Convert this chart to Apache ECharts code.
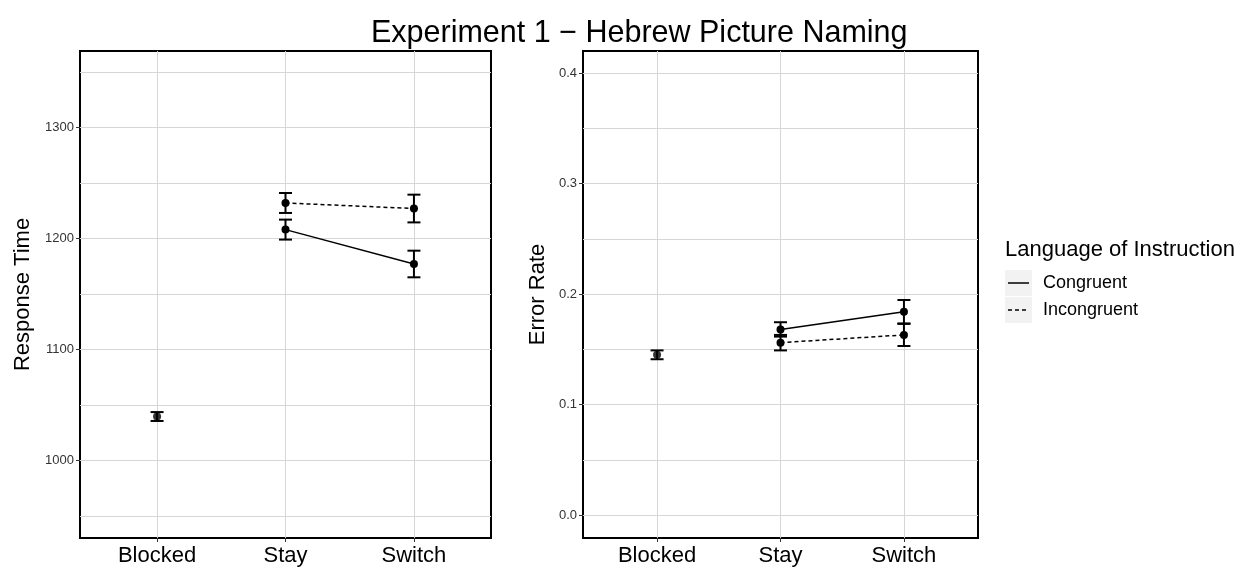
<!DOCTYPE html>
<html>
<head>
<meta charset="utf-8">
<script src="https://cdn.jsdelivr.net/npm/echarts@6/dist/echarts.min.js"></script>
<style>html,body{margin:0;padding:0;background:#fff}#c{width:1245px;height:567px}</style>
</head>
<body>
<div id="c"></div>
<script>
// ---- data ----
const categories = ['Blocked', 'Stay', 'Switch'];
const seriesNames = ['Congruent', 'Incongruent'];

// Response time (ms)
const rtBlocked = [1039.5, null, null];
const rtBlockedSE = [4, null, null];
const rtCongruent = [null, 1208, 1177];
const rtCongruentSE = [null, 9, 12];
const rtIncongruent = [null, 1232, 1227];
const rtIncongruentSE = [null, 9, 12.5];

// Error rate
const erBlocked = [0.145, null, null];
const erBlockedSE = [0.004, null, null];
const erCongruent = [null, 0.168, 0.184];
const erCongruentSE = [null, 0.0065, 0.0106];
const erIncongruent = [null, 0.156, 0.163];
const erIncongruentSE = [null, 0.0070, 0.0100];

// tick labels / gridlines
const rtTicks = [1000, 1100, 1200, 1300];
const rtGrid = [950, 1000, 1050, 1100, 1150, 1200, 1250, 1300, 1350];
const erTicks = [0.0, 0.1, 0.2, 0.3, 0.4];
const erGrid = [0.0, 0.05, 0.1, 0.15, 0.2, 0.25, 0.3, 0.35, 0.4];

// ---- helpers ----
const FONT = 'Liberation Sans, Arial, sans-serif';
const xPos = categories.map((c, i) => i + 1);
function pts(vals) {
  const out = [];
  vals.forEach((v, i) => { if (v != null) out.push([xPos[i], v]); });
  return out;
}
function bars(vals, se) {
  const out = [];
  vals.forEach((v, i) => { if (v != null) out.push([xPos[i], v - se[i], v + se[i]]); });
  return out;
}
function errRender(params, api) {
  const x = api.value(0), lo = api.value(1), hi = api.value(2);
  const a = api.coord([x, lo]), b = api.coord([x, hi]);
  const hw = 6.5;
  const st = { stroke: '#000', lineWidth: 2 };
  return { type: 'group', children: [
    { type: 'line', shape: { x1: a[0], y1: a[1], x2: b[0], y2: b[1] }, style: st },
    { type: 'line', shape: { x1: a[0] - hw, y1: a[1], x2: a[0] + hw, y2: a[1] }, style: st },
    { type: 'line', shape: { x1: b[0] - hw, y1: b[1], x2: b[0] + hw, y2: b[1] }, style: st }
  ]};
}
function xAxisFor(gi) {
  return {
    type: 'value', gridIndex: gi, min: 0.4, max: 3.6, position: 'bottom',
    axisLine: { show: false, onZero: false },
    axisTick: { show: true, customValues: xPos, length: 4, lineStyle: { color: '#333', width: 1 } },
    axisLabel: { show: true, customValues: xPos, formatter: v => categories[Math.round(v) - 1] || '',
      fontSize: 22, color: '#000', fontFamily: FONT, margin: 7 },
    splitLine: { show: true, lineStyle: { color: '#d6d6d6', width: 1 } }
  };
}
function yAxesFor(gi, min, max, ticks, grid, fmt, name, gap) {
  return [{
    type: 'value', gridIndex: gi, min: min, max: max, position: 'left',
    name: name, nameLocation: 'middle', nameGap: gap, nameRotate: 90,
    nameTextStyle: { fontSize: 22, color: '#000', fontFamily: FONT },
    axisLine: { show: false, onZero: false },
    axisTick: { show: true, customValues: ticks, length: 4, lineStyle: { color: '#333', width: 1 } },
    axisLabel: { show: true, customValues: ticks, formatter: fmt, fontSize: 13, color: '#333', fontFamily: FONT, margin: 6 },
    splitLine: { show: false }
  }, {
    type: 'value', gridIndex: gi, min: min, max: max, position: 'left',
    axisLine: { show: false, onZero: false },
    axisTick: { show: false, customValues: grid },
    axisLabel: { show: false },
    splitLine: { show: true, lineStyle: { color: '#d6d6d6', width: 1 } }
  }];
}
function panelSeries(xi, yi, blocked, blockedSE, cong, congSE, incong, incongSE) {
  const common = { xAxisIndex: xi, yAxisIndex: yi, animation: false, symbol: 'circle', symbolSize: 8,
    itemStyle: { color: '#000' }, z: 5 };
  return [
    { type: 'custom', xAxisIndex: xi, yAxisIndex: yi, renderItem: errRender, encode: { x: 0, y: [1, 2] },
      data: bars(blocked, blockedSE).concat(bars(cong, congSE), bars(incong, incongSE)), z: 3, animation: false, silent: true },
    Object.assign({ type: 'line', name: seriesNames[0], data: pts(cong), lineStyle: { color: '#000', width: 1.5, type: 'solid' } }, common),
    Object.assign({ type: 'line', name: seriesNames[1], data: pts(incong), lineStyle: { color: '#000', width: 1.5, type: [4, 3] } }, common),
    Object.assign({ type: 'scatter', name: 'Blocked', data: pts(blocked) }, common)
  ];
}

const chart = echarts.init(document.getElementById('c'), null, { renderer: 'canvas' });
const gridStyle = { show: true, borderColor: '#000', borderWidth: 2, backgroundColor: '#fff' };
chart.setOption({
  animation: false,
  textStyle: { fontFamily: FONT },
  title: { text: 'Experiment 1 − Hebrew Picture Naming', left: 366, top: 13,
    textStyle: { fontSize: 30.5, fontWeight: 'normal', color: '#000', fontFamily: FONT } },
  grid: [
    Object.assign({ left: 80, top: 51, width: 411, height: 488 }, gridStyle),
    Object.assign({ left: 583, top: 51, width: 395, height: 488 }, gridStyle)
  ],
  xAxis: [xAxisFor(0), xAxisFor(1)],
  yAxis: [].concat(
    yAxesFor(0, 930, 1369, rtTicks, rtGrid, v => String(v), 'Response Time', 46),
    yAxesFor(1, -0.0208, 0.42, erTicks, erGrid, v => Number(v).toFixed(1), 'Error Rate', 34)
  ),
  series: [].concat(
    panelSeries(0, 0, rtBlocked, rtBlockedSE, rtCongruent, rtCongruentSE, rtIncongruent, rtIncongruentSE),
    panelSeries(1, 2, erBlocked, erBlockedSE, erCongruent, erCongruentSE, erIncongruent, erIncongruentSE)
  ),
  graphic: [
    { type: 'text', left: 1005, top: 239, style: { text: 'Language of Instruction', fontSize: 22, fill: '#000', fontFamily: FONT } },
    { type: 'rect', left: 1005, top: 270, shape: { width: 27, height: 26 }, style: { fill: '#f2f2f2' } },
    { type: 'rect', left: 1005, top: 297, shape: { width: 27, height: 26 }, style: { fill: '#f2f2f2' } },
    { type: 'line', shape: { x1: 1008, y1: 283, x2: 1029, y2: 283 }, style: { stroke: '#000', lineWidth: 1.5 } },
    { type: 'line', shape: { x1: 1008, y1: 310, x2: 1029, y2: 310 }, style: { stroke: '#000', lineWidth: 1.5, lineDash: [4, 3] } },
    { type: 'text', left: 1043, top: 274, style: { text: seriesNames[0], fontSize: 18, fill: '#000', fontFamily: FONT } },
    { type: 'text', left: 1043, top: 301, style: { text: seriesNames[1], fontSize: 18, fill: '#000', fontFamily: FONT } }
  ]
});
</script>
</body>
</html>
